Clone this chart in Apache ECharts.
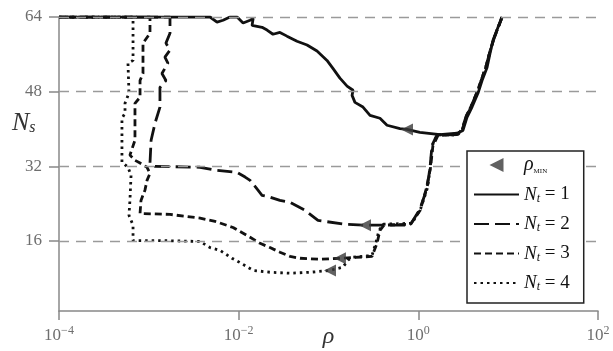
<!DOCTYPE html>
<html>
<head>
<meta charset="utf-8">
<title>Ns vs rho</title>
<script src="https://cdn.jsdelivr.net/npm/echarts@6/dist/echarts.min.js"></script>
<style>
    html, body { margin: 0; padding: 0; background: #fff; }
    #chart { width: 613px; height: 351px; }
</style>
</head>
<body>
<div id="chart"></div>
<script>
// curve Nt = 1
var nt1Rho = [1e-4, 0.0048, 0.00574, 0.0067, 0.0080, 0.0096, 0.0112, 0.0134, 0.0145, 0.0141, 0.0182, 0.0207, 0.0241, 0.0288, 0.0345, 0.0446, 0.0577, 0.0745, 0.0962, 0.112, 0.134, 0.161, 0.1875, 0.183, 0.197, 0.242, 0.290, 0.374, 0.448, 0.625, 0.748, 1.04, 1.74, 2.70, 3.14, 3.48, 3.96, 4.62, 5.12, 5.82, 6.28, 6.78, 7.71, 8.55];
var nt1Ns = [64, 64, 62.9, 63.3, 64, 64, 62.7, 63.3, 63.7, 62.2, 61.8, 61.2, 60.3, 60.7, 59.9, 58.8, 58.0, 56.7, 54.7, 53.0, 50.9, 49.2, 48.3, 47.2, 45.7, 44.7, 42.9, 42.3, 40.8, 40.1, 39.9, 39.3, 38.8, 39.1, 39.7, 42.5, 44.7, 47.7, 50.4, 53.2, 56.2, 59.0, 61.8, 64];

// curve Nt = 2
var nt2Rho = [1e-4, 0.00172, 0.00172, 0.00155, 0.00172, 0.00151, 0.00163, 0.00140, 0.00155, 0.00133, 0.00133, 0.00117, 0.00106, 0.00103, 0.00117, 0.00372, 0.00546, 0.0096, 0.0118, 0.0134, 0.0164, 0.0182, 0.0223, 0.0288, 0.0373, 0.0547, 0.0764, 0.153, 0.255, 0.807, 1.04, 1.25, 1.35, 1.42, 1.61, 2.70, 3.06, 3.40, 3.96, 4.50, 5.12, 5.66, 6.28, 6.96, 7.91, 8.55];
var nt2Ns = [64, 64, 60.5, 58.4, 56.9, 55.4, 54.1, 51.9, 50.4, 48.9, 44.7, 41.2, 37.6, 32.7, 32.0, 31.8, 31.2, 30.7, 29.7, 29.0, 26.9, 25.8, 25.4, 24.7, 24.3, 22.6, 20.4, 19.6, 19.4, 19.4, 22.8, 27.3, 31.8, 36.5, 38.7, 38.8, 39.9, 42.7, 45.3, 47.9, 50.9, 53.4, 56.6, 59.4, 62.2, 64];

// curve Nt = 3
var nt3Rho = [1e-4, 0.00103, 0.00103, 0.000861, 0.000861, 0.000798, 0.000798, 0.000701, 0.000701, 0.000616, 0.000701, 0.000798, 0.000955, 0.00103, 0.000955, 0.000905, 0.000818, 0.000798, 0.00172, 0.00372, 0.00546, 0.00865, 0.0134, 0.0173, 0.0223, 0.0288, 0.0373, 0.0482, 0.0806, 0.134, 0.305, 0.347, 0.374, 0.415, 0.82, 1.05, 1.23, 1.37, 1.45, 1.65, 2.75, 3.10, 3.45, 4.00, 4.55, 5.15, 5.70, 6.30, 7.00, 7.95, 8.6];
var nt3Ns = [64, 64, 60.5, 58.4, 51.9, 50.4, 46.8, 45.5, 37.6, 34.4, 33.3, 32.7, 31.8, 30.5, 29.0, 26.9, 24.7, 21.9, 21.7, 20.9, 20.2, 18.9, 16.8, 15.5, 14.6, 13.6, 12.7, 12.3, 12.1, 12.3, 12.7, 15.5, 18.3, 19.4, 19.6, 22.6, 27.3, 31.8, 36.3, 38.6, 38.9, 40.0, 42.9, 45.5, 48.1, 51.1, 53.6, 56.8, 59.6, 62.4, 64];

// curve Nt = 4
var nt4Rho = [1e-4, 0.000667, 0.000667, 0.000586, 0.000601, 0.000543, 0.000543, 0.000502, 0.000502, 0.000586, 0.000634, 0.000616, 0.000601, 0.000667, 0.000667, 0.00133, 0.00372, 0.0048, 0.00619, 0.00843, 0.0103, 0.0145, 0.0223, 0.0373, 0.0622, 0.104, 0.145, 0.165, 0.183, 0.305, 0.335, 0.365, 0.41, 0.85, 1.06, 1.27, 1.36, 1.44, 1.63, 2.72, 3.08, 3.42, 3.98, 4.52, 5.10, 5.68, 6.25, 6.90, 7.85, 8.5];
var nt4Ns = [64, 64, 54.7, 54.1, 47.7, 45.5, 43.4, 42.3, 32.9, 31.8, 30.1, 24.7, 21.5, 19.4, 16.1, 16.1, 15.9, 14.6, 14.0, 12.3, 11.4, 9.7, 9.3, 9.1, 9.3, 9.7, 10.4, 11.9, 12.5, 12.9, 15.5, 18.3, 19.6, 19.8, 22.9, 27.5, 31.9, 36.6, 38.8, 38.7, 39.8, 42.6, 45.2, 47.8, 50.8, 53.3, 56.5, 59.3, 62.1, 64];

// rho_MIN markers (Nt = 1..4)
var minRho = [0.748, 0.255, 0.134, 0.104];
var minNs = [39.9, 19.4, 12.3, 9.7];

// y ticks / grid lines
var nsTicks = [16, 32, 48, 64];

var SERIF = '"Liberation Serif", "DejaVu Serif", serif';

function zip (xs, ys) {
    return xs.map(function (x, i) {
        return [x, ys[i]];
    });
}

function curve (name, rho, ns, dash) {
    return {
        name: name,
        type: 'line',
        data: zip(rho, ns),
        symbol: 'none',
        showSymbol: false,
        z: 3,
        itemStyle: { color: '#111' },
        lineStyle: {
            color: '#111',
            width: 2.8,
            type: dash
        }
    };
}

// legend entry for a line: keep the line, hide the symbol
function lineItem (name) {
    return { name: name, itemStyle: { opacity: 0 } };
}

var subText = {
    n: { fontFamily: SERIF, fontStyle: 'italic', fontSize: 19, lineHeight: 20, color: '#111' },
    t: { fontFamily: SERIF, fontStyle: 'italic', fontSize: 12, lineHeight: 11, verticalAlign: 'bottom', color: '#111' },
    e: { fontFamily: SERIF, fontSize: 19, lineHeight: 20, color: '#111' },
    rho: { fontFamily: SERIF, fontStyle: 'italic', fontSize: 20, lineHeight: 20, verticalAlign: 'top', color: '#111' },
    min: { fontFamily: SERIF, fontSize: 7, lineHeight: 8, verticalAlign: 'bottom', color: '#111' }
};

var legendText = {
    rmin: '{rho|ρ}{min|MIN}',
    nt1: '{n|N}{t|t}{e| = 1}',
    nt2: '{n|N}{t|t}{e| = 2}',
    nt3: '{n|N}{t|t}{e| = 3}',
    nt4: '{n|N}{t|t}{e| = 4}'
};

var chart = echarts.init(document.getElementById('chart'));

var option = {
    animation: false,
    backgroundColor: '#fff',
    grid: {
        left: 59,
        right: 15,
        top: 17,
        bottom: 40,
        outerBoundsMode: 'none'
    },
    xAxis: {
        type: 'log',
        logBase: 10,
        min: 1e-4,
        max: 100,
        interval: 2,
        name: 'ρ',
        nameLocation: 'middle',
        nameGap: 14,
        nameMoveOverlap: false,
        nameTextStyle: {
            fontFamily: SERIF,
            fontStyle: 'italic',
            fontSize: 24,
            color: '#333'
        },
        axisLine: { lineStyle: { color: '#888', width: 1.5 } },
        axisTick: { length: 9, lineStyle: { color: '#888', width: 1.5 } },
        minorTick: { show: false },
        splitLine: { show: false },
        axisLabel: {
            margin: 14,
            formatter: function (v) {
                var p = Math.round(Math.log(v) / Math.LN10);
                return '{b|10}{s|' + (p < 0 ? '\u2212' + (-p) : p) + '}';
            },
            rich: {
                b: { fontFamily: SERIF, fontSize: 17, lineHeight: 22, color: '#6e6e6e' },
                s: { fontFamily: SERIF, fontSize: 12, lineHeight: 12, verticalAlign: 'top', color: '#6e6e6e' }
            }
        }
    },
    yAxis: {
        type: 'value',
        min: 1,
        max: 64,
        axisLine: { show: true, lineStyle: { color: '#888', width: 1.5 } },
        axisTick: { show: true, length: 10, customValues: nsTicks, lineStyle: { color: '#888', width: 1.5 } },
        splitLine: { show: false },
        axisLabel: {
            customValues: nsTicks,
            margin: 17,
            fontFamily: SERIF,
            fontSize: 17,
            color: '#6e6e6e'
        }
    },
    legend: {
        orient: 'vertical',
        left: 467,
        top: 151,
        padding: [4, 14, 10, 6],
        itemWidth: 45,
        itemHeight: 14,
        itemGap: 10,
        backgroundColor: '#fff',
        borderColor: '#222',
        borderWidth: 1.5,
        borderRadius: 0,
        selectedMode: false,
        z: 10,
        data: [
            { name: 'rmin', icon: 'path://M10,0 L10,10 L0,5 Z' },
            lineItem('nt1'),
            lineItem('nt2'),
            lineItem('nt3'),
            lineItem('nt4')
        ],
        formatter: function (name) {
            return legendText[name];
        },
        textStyle: {
            rich: subText
        }
    },
    graphic: [
        {
            type: 'text',
            left: 12,
            top: 110,
            style: {
                text: '{n|N}{s|s}',
                rich: {
                    n: { fontFamily: SERIF, fontStyle: 'italic', fontSize: 26, lineHeight: 26, fill: '#333' },
                    s: { fontFamily: SERIF, fontStyle: 'italic', fontSize: 16, lineHeight: 14, verticalAlign: 'bottom', fill: '#333' }
                }
            }
        }
    ],
    series: [
        // dashed grid lines
        {
            name: 'grid',
            type: 'line',
            data: [],
            z: 1,
            markLine: {
                silent: true,
                symbol: 'none',
                label: { show: false },
                lineStyle: { color: '#9a9a9a', width: 1.3, type: [10, 7] },
                data: nsTicks.map(function (v) { return { yAxis: v }; })
            }
        },
        curve('nt1', nt1Rho, nt1Ns, 'solid'),
        curve('nt2', nt2Rho, nt2Ns, [15, 6]),
        curve('nt3', nt3Rho, nt3Ns, [7, 4]),
        curve('nt4', nt4Rho, nt4Ns, [2.5, 4]),
        {
            name: 'rmin',
            type: 'scatter',
            data: zip(minRho, minNs),
            symbol: 'triangle',
            symbolRotate: 90,
            symbolSize: 12,
            z: 4,
            itemStyle: { color: '#3a3a3a' }
        }
    ]
};

chart.setOption(option);

window.onresize = function () {
    chart.resize();
};
</script>
</body>
</html>
